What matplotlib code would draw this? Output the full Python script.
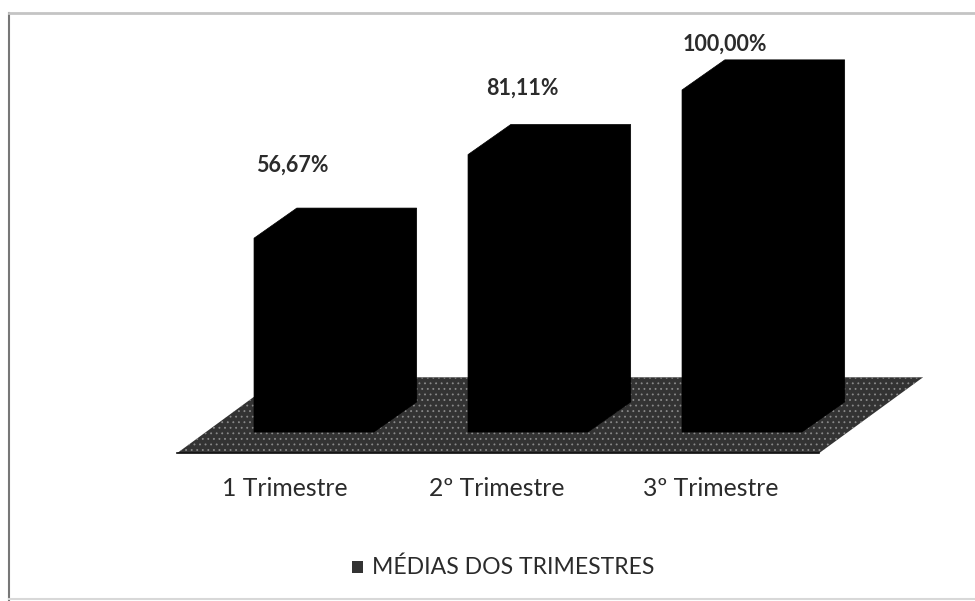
import numpy as np
import matplotlib
matplotlib.use("Agg")
import matplotlib.pyplot as plt
from matplotlib.patches import Polygon, Rectangle

# Dados
categorias = ['1 Trimestre', '2º Trimestre', '3º Trimestre']
medias = [56.67, 81.11, 100.00]
rotulos = ['56,67%', '81,11%', '100,00%']
legenda = 'MÉDIAS DOS TRIMESTRES'

plt.rcParams['font.family'] = ['Lato', 'DejaVu Sans']
plt.rcParams['hatch.linewidth'] = 0.6

fig = plt.figure(figsize=(9.75, 6.01), dpi=100)
ax = fig.add_axes([0, 0, 1, 1])
ax.set_xlim(-1.467, 3.089)
ax.set_ylim(-49.4, 126.3)
ax.axis('off')

# Pseudo 3D
meia_larg = 0.28
dx = 0.20
dy = 8.8

# Piso
piso = Polygon([(-0.64, -6.2), (2.36, -6.2), (2.846, 16), (-0.156, 16)],
               closed=True, facecolor='#333333', edgecolor='#8a8a8a',
               hatch='...', linewidth=0, zorder=1)
ax.add_patch(piso)
ax.plot([-0.64, 2.36], [-6.2, -6.2], color='#111111', lw=1.2, zorder=2)

# Barras
x = np.arange(len(medias))
for i, v in zip(x, medias):
    ax.add_patch(Polygon([(i - meia_larg, 0), (i + meia_larg, 0),
                          (i + meia_larg + dx, dy), (i + meia_larg + dx, v + dy),
                          (i - meia_larg + dx, v + dy), (i - meia_larg, v)],
                         closed=True, facecolor='black', edgecolor='black',
                         linewidth=0.5, zorder=3))

# Rótulos de valor
desloc_x = [-0.103, -0.028, -0.079]
desloc_y = [21.4, 19.5, 13.5]
for i, v, r, ox, oy in zip(x, medias, rotulos, desloc_x, desloc_y):
    ax.text(i + ox, v + oy, r, ha='center', va='center', fontsize=15.5,
            fontweight='bold', color='#2b2b2b', zorder=4)

# Categorias
desloc_cat = [-0.138, -0.145, -0.147]
for i, c, ox in zip(x, categorias, desloc_cat):
    ax.text(i + ox, -16.4, c, ha='center', va='center', fontsize=17.8, color='#2b2b2b')

# Legenda
ax.add_patch(Rectangle((0.178, -41.2), 0.052, 3.5, facecolor='#333333', edgecolor='none'))
ax.text(0.27, -39.6, legenda, ha='left', va='center', fontsize=16.6, color='#2b2b2b')

# Moldura da imagem digitalizada
ax.plot([-1.425, -1.425], [-49.4, 122.5], color='#777777', lw=1.5)
ax.plot([-1.425, 3.089], [122.5, 122.5], color='#c4c4c4', lw=2)
ax.plot([-1.425, 3.089], [-48.8, -48.8], color='#d8d8d8', lw=1.5)

fig.savefig('out.png', dpi=100)
plt.close(fig)
